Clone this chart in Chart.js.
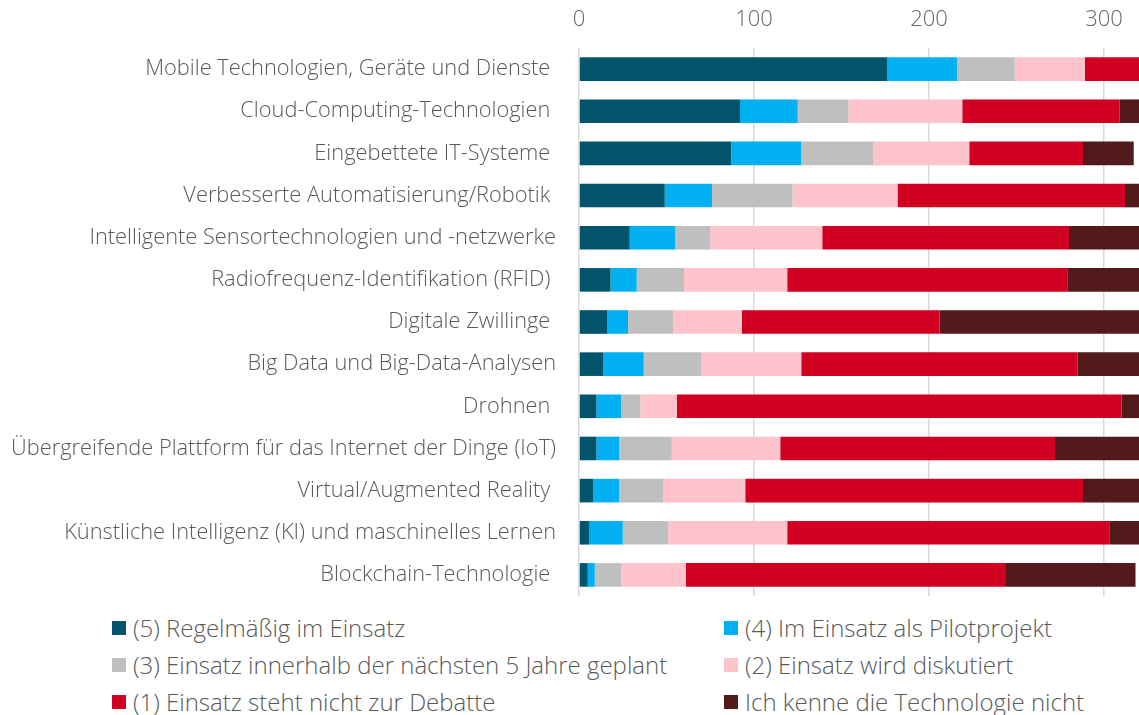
<!DOCTYPE html>
<html>
<head>
<meta charset="utf-8">
<script src="https://cdn.jsdelivr.net/npm/chart.js@4/dist/chart.umd.min.js"></script>
<style>
    body { margin: 0; background: #fff; font-family: "Open Sans", sans-serif; }
    #wrap { position: relative; width: 1139px; height: 715px; overflow: hidden; }
    #chart { position: absolute; left: 0; top: 0; }
    .legend-item { position: absolute; height: 30px; line-height: 30px; display: flex; align-items: center; color: #595959; font-size: 24px; font-weight: 300; white-space: nowrap; }
    .legend-box { width: 14px; height: 14px; margin-right: 7px; }
</style>
</head>
<body>
<div id="wrap">
    <canvas id="chart" width="1139" height="600"></canvas>
    <div id="legend"></div>
</div>
<script>
var categories = [
    'Mobile Technologien, Geräte und Dienste ',
    'Cloud-Computing-Technologien ',
    'Eingebettete IT-Systeme ',
    'Verbesserte Automatisierung/Robotik ',
    'Intelligente Sensortechnologien und -netzwerke',
    'Radiofrequenz-Identifikation (RFID) ',
    'Digitale Zwillinge ',
    'Big Data und Big-Data-Analysen',
    'Drohnen ',
    'Übergreifende Plattform für das Internet der Dinge (IoT)',
    'Virtual/Augmented Reality ',
    'Künstliche Intelligenz (KI) und maschinelles Lernen',
    'Blockchain-Technologie '
];

var regular    = [176, 92, 87, 49, 29, 18, 16, 14, 10, 10,  8,  6,   5];
var pilot      = [ 40, 33, 40, 27, 26, 15, 12, 23, 14, 13, 15, 19,   4];
var planned    = [ 33, 29, 41, 46, 20, 27, 26, 33, 11, 30, 25, 26,  15];
var discussed  = [ 40, 65, 55, 60, 64, 59, 39, 57, 21, 62, 47, 68,  37];
var notDebated = [ 31, 90, 65, 130, 141, 160, 113, 158, 254, 157, 193, 184, 183];
var unknown    = [  2, 12, 29, 10, 42, 43, 116, 37, 12, 50, 34, 19,  74];

var seriesNames = [
    '(5) Regelmäßig im Einsatz',
    '(4) Im Einsatz als Pilotprojekt',
    '(3) Einsatz innerhalb der nächsten 5 Jahre geplant',
    '(2) Einsatz wird diskutiert',
    '(1) Einsatz steht nicht zur Debatte',
    'Ich kenne die Technologie nicht'
];
var seriesColors = ['#02546c', '#00b0f0', '#bfbfbf', '#ffc3cb', '#d20020', '#521a1a'];
var xTicks = [0, 100, 200, 300];

var seriesData = [regular, pilot, planned, discussed, notDebated, unknown];

var datasets = seriesData.map(function(values, i) {
    return {
        label: seriesNames[i],
        data: values,
        backgroundColor: seriesColors[i],
        borderWidth: 0,
        barPercentage: 0.56,
        categoryPercentage: 1.0
    };
});

var ctx = document.getElementById('chart').getContext('2d');

var chart = new Chart(ctx, {
    type: 'bar',
    data: {
        labels: categories,
        datasets: datasets
    },
    options: {
        indexAxis: 'y',
        responsive: false,
        animation: false,
        layout: {
            padding: { top: 0, right: 0, bottom: 4, left: 0 }
        },
        scales: {
            x: {
                position: 'top',
                stacked: true,
                min: 0,
                max: 320,
                afterBuildTicks: function(scale) {
                    scale.ticks = xTicks.map(v => ({ value: v }));
                },
                afterFit: function(scale) {
                    scale.height = 48;
                },
                grid: {
                    color: '#d9d9d9',
                    lineWidth: 1.5,
                    drawTicks: false
                },
                border: { display: false },
                ticks: {
                    padding: 15,
                    color: '#666666',
                    font: { family: 'Open Sans', size: 22, weight: '300' }
                }
            },
            y: {
                stacked: true,
                grid: { display: false, drawTicks: false },
                border: { display: false },
                afterFit: function(scale) {
                    scale.width = 579;
                    // the label padding should not shrink the plot vertically
                    scale.paddingTop = 0;
                    scale.paddingBottom = 0;
                },
                ticks: {
                    padding: 23,
                    color: '#595959',
                    font: { family: 'Open Sans', size: 21.8, weight: '300' }
                }
            }
        },
        plugins: {
            legend: { display: false },
            tooltip: { enabled: false }
        }
    }
});

// legend in two columns below the chart
var legend = document.getElementById('legend');
var colX = [112, 724];
var rowY = [628, 665, 702];
seriesNames.forEach(function(name, i) {
    var item = document.createElement('div');
    item.className = 'legend-item';
    item.style.left = colX[i % 2] + 'px';
    item.style.top = (rowY[Math.floor(i / 2)] - 15) + 'px';
    item.innerHTML = '<span class="legend-box" style="background:' + seriesColors[i] + '"></span><span>' + name + '</span>';
    legend.appendChild(item);
});
</script>
</body>
</html>
